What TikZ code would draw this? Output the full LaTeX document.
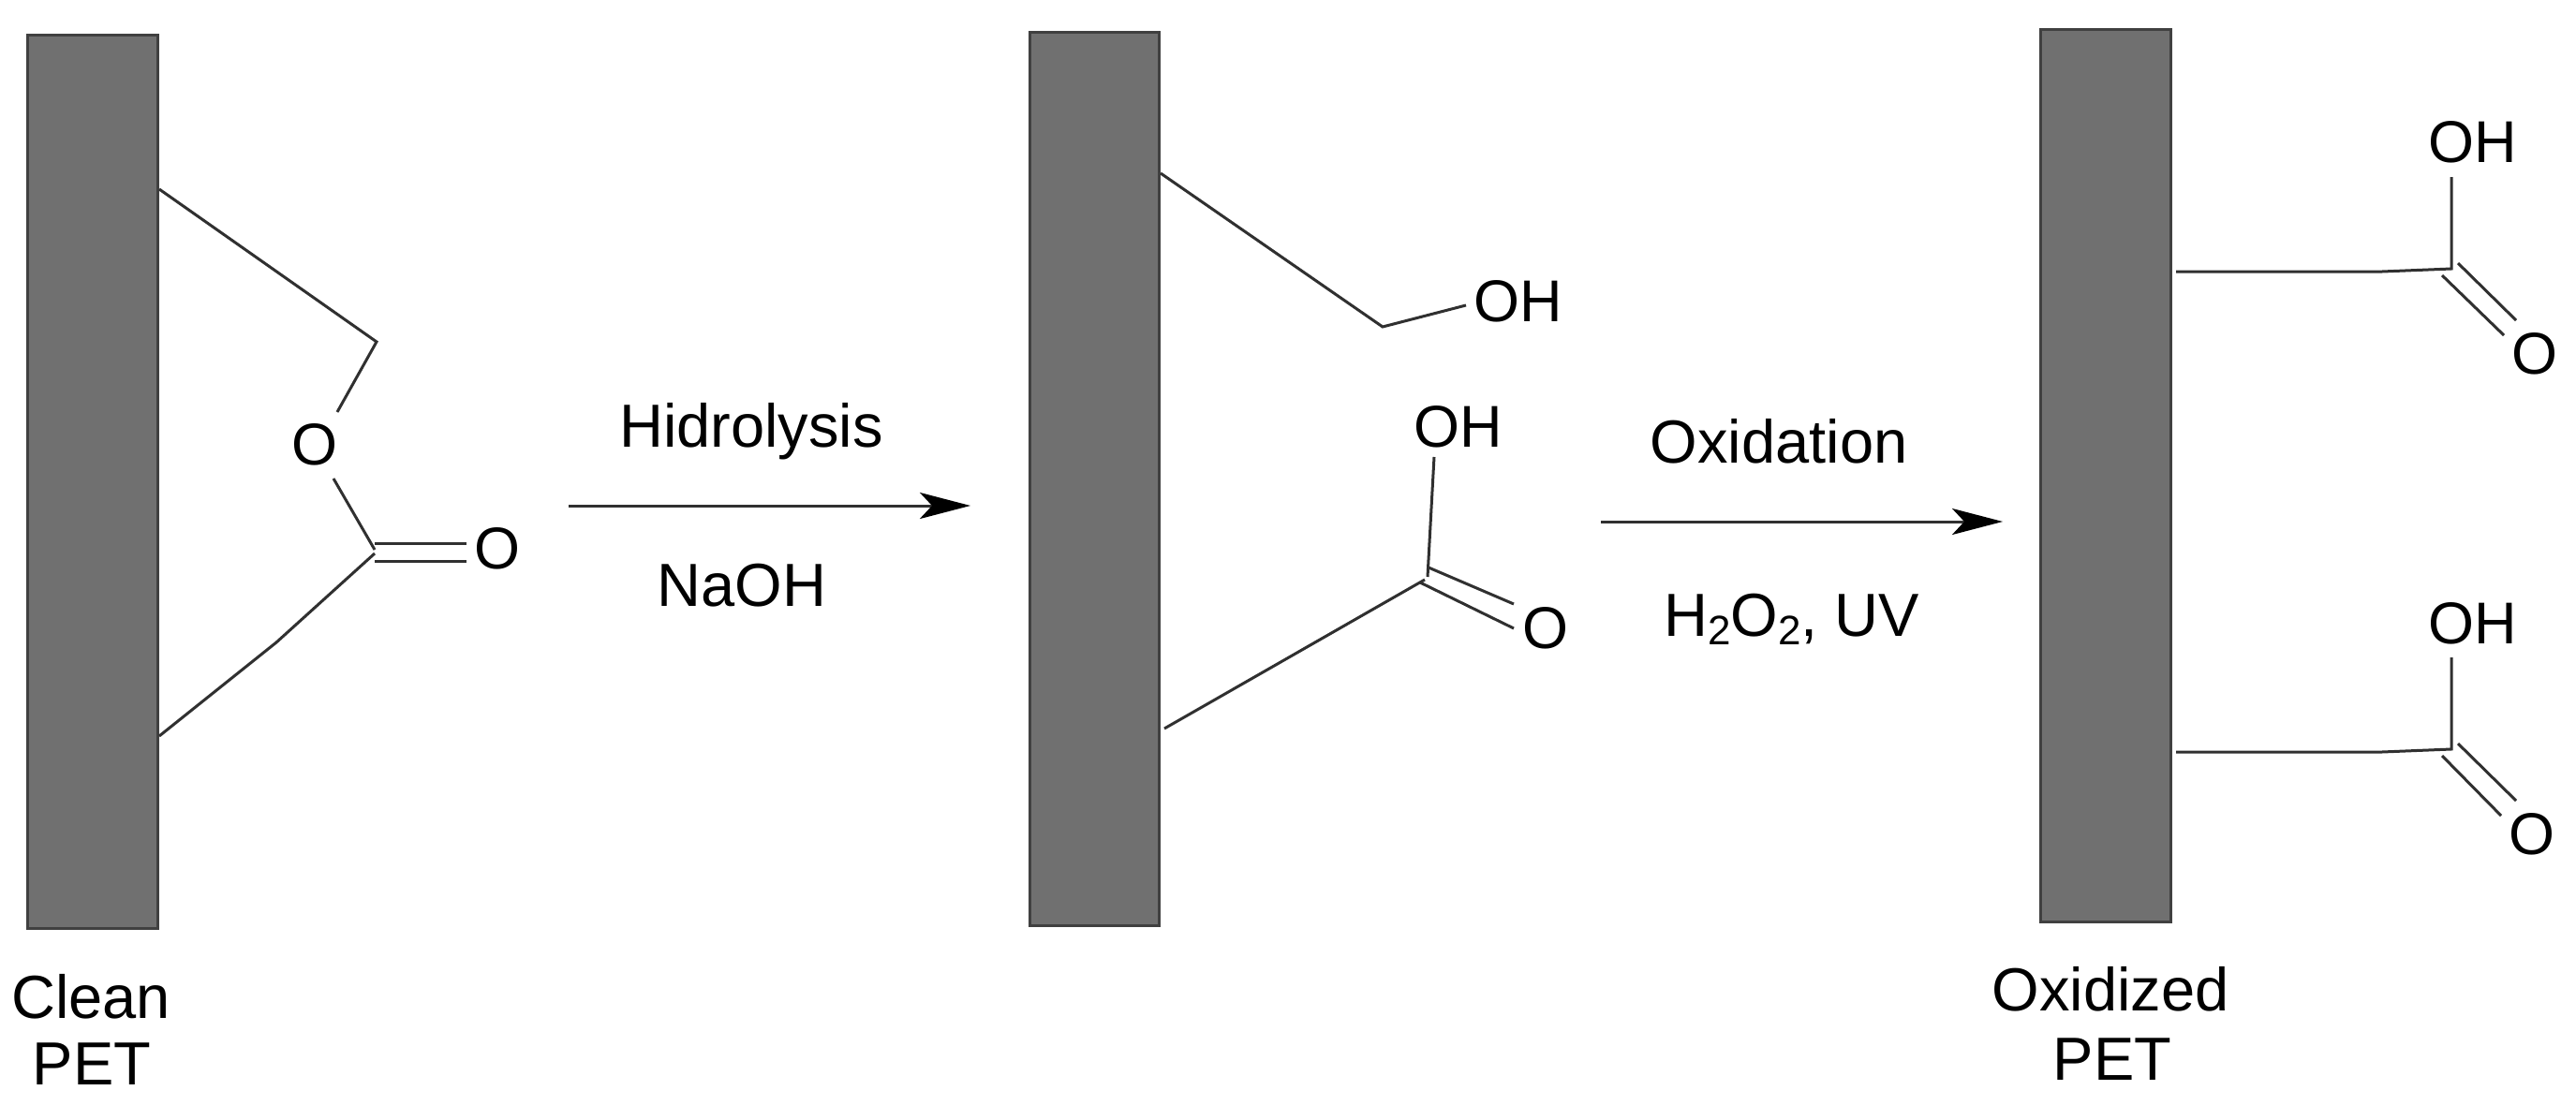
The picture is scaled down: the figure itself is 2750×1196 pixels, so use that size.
\documentclass[tikz,border=0pt]{standalone}
\usepackage{fontspec}
\setmainfont{Liberation Sans}
\usetikzlibrary{arrows.meta}
\definecolor{barfill}{HTML}{707070}
\definecolor{barline}{HTML}{404040}
\definecolor{bondc}{HTML}{303030}
\tikzset{
  x=1pt,y=-1pt,
  bar/.style={draw=barline,line width=3pt,fill=barfill,inner sep=0pt,anchor=north west},
  lab/.style={font=\fontsize{65}{65}\selectfont,text=black,inner sep=0pt,anchor=base},
  atom/.style={font=\fontsize{63}{63}\selectfont,text=black,inner sep=0pt,anchor=center},
  oh/.style={font=\fontsize{63}{63}\selectfont,text=black,inner sep=0pt,anchor=base west},
  bond/.style={draw=bondc,line width=3pt,line join=miter},
  rxn/.style={draw=bondc,line width=3pt,-{Stealth[length=54pt,width=28pt,inset=13pt,color=black,fill=black]}}
}
\begin{document}
\begin{tikzpicture}
\useasboundingbox (0,0) rectangle (2750,1196);
% bars
\node[bar,minimum width=139pt,minimum height=954pt] (barA) at (28,36) {};
\node[bar,minimum width=138pt,minimum height=954pt] (barB) at (1098,33) {};
\node[bar,minimum width=139pt,minimum height=953pt] (barC) at (2177,30) {};
% labels
\node[lab] (cleanT) at (97,1087) {Clean};
\node[lab] (cleanP) at (98,1158) {PET};
\node[lab] (oxT) at (2253,1079) {Oxidized};
\node[lab] (oxP) at (2255,1153) {PET};
\node[lab] (hyd) at (802,477) {Hidrolysis};
\node[lab] (naoh) at (792,647) {NaOH};
\node[lab] (oxd) at (1899,494) {Oxidation};
\node[lab,anchor=base west] (perox) at (1776,679) {H\raisebox{-9pt}{\fontsize{44}{44}\selectfont 2}O\raisebox{-9pt}{\fontsize{44}{44}\selectfont 2}, UV};
% arrows
\coordinate (r1s) at (607,540); \coordinate (r1e) at (1036,540);
\coordinate (r2s) at (1709,557); \coordinate (r2e) at (2138,557);
\draw[rxn] (r1s) -- (r1e);
\draw[rxn] (r2s) -- (r2e);
% --- Clean PET
\node[atom] (aO1) at (336,475) {O};
\node[atom] (aO2) at (531,586) {O};
\coordinate (a1) at (402,365);
\coordinate (a1o) at (360,440);
\coordinate (ao2) at (356,511);
\coordinate (ac) at (400,587);
\coordinate (ad1s) at (400,580); \coordinate (ad1e) at (498,580);
\coordinate (ad2s) at (400,599); \coordinate (ad2e) at (498,599);
\coordinate (acb) at (400,591);
\coordinate (am) at (295,686);
\draw[bond] ([yshift=-166pt]barA.north east) -- (a1) -- (a1o);
\draw[bond] (ao2) -- (ac);
\draw[bond] (ad1s) -- (ad1e);
\draw[bond] (ad2s) -- (ad2e);
\draw[bond] (acb) -- (am) -- ([yshift=-750pt]barA.north east);
% --- middle
\node[oh] (bOH1) at (1573,343) {OH};
\node[oh] (bOH2) at (1509,477) {OH};
\node[atom] (bO) at (1650,671) {O};
\coordinate (b1) at (1476,349);
\coordinate (b1o) at (1565,326);
\coordinate (b2o) at (1531,488);
\coordinate (b2c) at (1524,616);
\coordinate (bcb) at (1521,619);
\coordinate (bd1s) at (1525,606); \coordinate (bd1e) at (1616,645);
\coordinate (bd2s) at (1516,622); \coordinate (bd2e) at (1616,671);
\draw[bond] ([yshift=-152pt]barB.north east) -- (b1) -- (b1o);
\draw[bond] (b2o) -- (b2c);
\draw[bond] ([xshift=4pt,yshift=-745pt]barB.north east) -- (bcb);
\draw[bond] (bd1s) -- (bd1e);
\draw[bond] (bd2s) -- (bd2e);
% --- right, upper
\node[oh] (cOH1) at (2592,174) {OH};
\node[atom] (cO1) at (2706,378) {O};
\coordinate (c1m) at (2543,290);
\coordinate (c1c) at (2617,287);
\coordinate (c1o) at (2617,189);
\coordinate (c1d1s) at (2624,281); \coordinate (c1d1e) at (2686,342);
\coordinate (c1d2s) at (2607,294); \coordinate (c1d2e) at (2673,358);
\draw[bond] ([xshift=4pt,yshift=-260pt]barC.north east) -- (c1m) -- (c1c) -- (c1o);
\draw[bond] (c1d1s) -- (c1d1e);
\draw[bond] (c1d2s) -- (c1d2e);
% --- right, lower
\node[oh] (cOH2) at (2592,687) {OH};
\node[atom] (cO2) at (2703,891) {O};
\coordinate (c2m) at (2543,803);
\coordinate (c2c) at (2617,800);
\coordinate (c2o) at (2617,702);
\coordinate (c2d1s) at (2624,794); \coordinate (c2d1e) at (2686,855);
\coordinate (c2d2s) at (2607,807); \coordinate (c2d2e) at (2670,871);
\draw[bond] ([xshift=4pt,yshift=-773pt]barC.north east) -- (c2m) -- (c2c) -- (c2o);
\draw[bond] (c2d1s) -- (c2d1e);
\draw[bond] (c2d2s) -- (c2d2e);
\end{tikzpicture}
\end{document}
